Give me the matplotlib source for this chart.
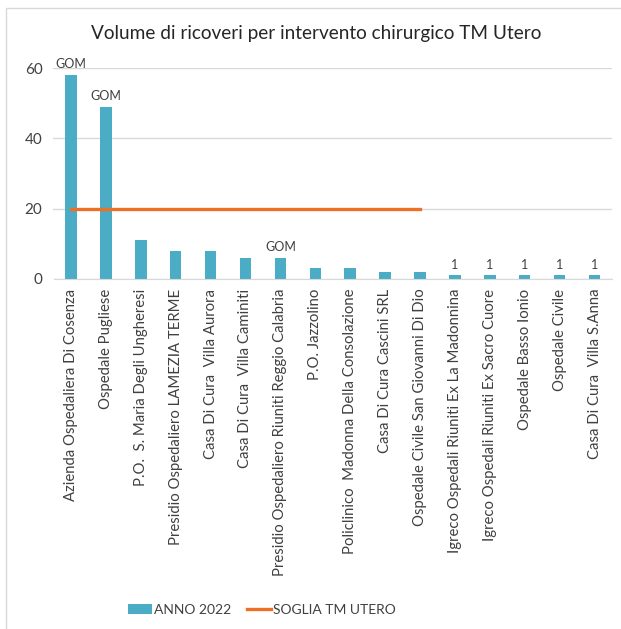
import matplotlib

matplotlib.use("Agg")
import matplotlib.pyplot as plt
import numpy as np
from matplotlib.patches import Rectangle

plt.rcParams["font.family"] = ["Lato", "DejaVu Sans"]

TITLE = "Volume di ricoveri per intervento chirurgico TM Utero"

HOSPITALS = [
    "Azienda Ospedaliera Di Cosenza",
    "Ospedale Pugliese",
    "P.O.  S. Maria Degli Ungheresi",
    "Presidio Ospedaliero LAMEZIA TERME",
    "Casa Di Cura  Villa Aurora",
    "Casa Di Cura  Villa Caminiti",
    "Presidio Ospedaliero Riuniti Reggio Calabria",
    "P.O. Jazzolino",
    "Policlinico  Madonna Della Consolazione",
    "Casa Di Cura Cascini SRL",
    "Ospedale Civile San Giovanni Di Dio",
    "Igreco Ospedali Riuniti Ex La Madonnina",
    "Igreco Ospedali Riuniti Ex Sacro Cuore",
    "Ospedale Basso Ionio",
    "Ospedale Civile",
    "Casa Di Cura  Villa S.Anna",
]
ANNO_2022 = [58, 49, 11, 8, 8, 6, 6, 3, 3, 2, 2, 1, 1, 1, 1, 1]
SOGLIA = [20, 20, 20, 20, 20, 20, 20, 20, 20, 20, 20,
          np.nan, np.nan, np.nan, np.nan, np.nan]
BAR_LABELS = ["GOM", "GOM", "", "", "", "", "GOM", "", "", "", "",
              "1", "1", "1", "1", "1"]

BAR_COLOR = "#4BACC6"
LINE_COLOR = "#EE7024"
TEXT_COLOR = "#404040"
GRID_COLOR = "#D9D9D9"

fig = plt.figure(figsize=(6.21, 6.29), dpi=100)
ax = fig.add_axes([53.5 / 621, 1 - 279 / 629, (612 - 53.5) / 621, (279 - 68) / 629])

# chart area border (cropped at right/bottom in the source)
fig.patches.append(Rectangle((6 / 621, -0.05), 1.1, 1.05 - 8 / 629,
                             transform=fig.transFigure, fill=False,
                             edgecolor=GRID_COLOR, linewidth=1.0))

x = np.arange(len(HOSPITALS))
bars = ax.bar(x, ANNO_2022, width=0.33, color=BAR_COLOR, label="ANNO 2022", zorder=2)
line, = ax.plot(x, SOGLIA, color=LINE_COLOR, linewidth=2.4, label="SOGLIA TM UTERO", zorder=3)

for xi, val, lab in zip(x, ANNO_2022, BAR_LABELS):
    if lab:
        ax.text(xi, val + 1.3, lab, ha="center", va="bottom", fontsize=9,
                color=TEXT_COLOR, clip_on=False)

ax.set_xlim(-0.5, len(HOSPITALS) - 0.5)
ax.set_ylim(0, 60)
ax.set_yticks([0, 20, 40, 60])
ax.yaxis.grid(True, color=GRID_COLOR, linewidth=1.0, zorder=0)
ax.set_axisbelow(True)
for side in ["top", "right", "left"]:
    ax.spines[side].set_visible(False)
ax.spines["bottom"].set_color(GRID_COLOR)
ax.tick_params(axis="both", length=0, colors=TEXT_COLOR)
ax.tick_params(axis="y", labelsize=11, pad=8)
ax.set_xticks(x)
ax.set_xticklabels(HOSPITALS, rotation=90, fontsize=10.7, color=TEXT_COLOR)
ax.tick_params(axis="x", pad=7)

fig.text(316 / 621, 1 - 33 / 629, TITLE, ha="center", va="center",
         fontsize=13.7, color="#262626")

fig.legend(handles=[bars, line], loc="center", bbox_to_anchor=(262 / 621, 1 - 610 / 629),
           ncol=2, frameon=False, fontsize=10, handlelength=1.7, handleheight=0.75,
           handletextpad=0.2, columnspacing=1.1, labelcolor=TEXT_COLOR)

fig.savefig("out.png", dpi=100)
